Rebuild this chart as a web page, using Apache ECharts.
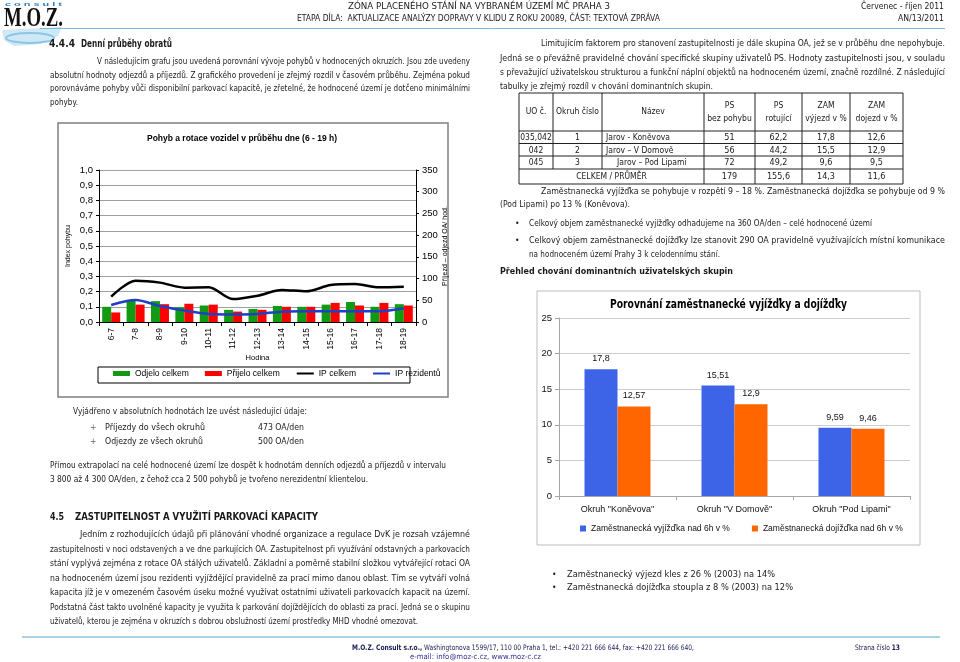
<!DOCTYPE html>
<html><head><meta charset="utf-8">
<script src="https://cdn.jsdelivr.net/npm/echarts@6/dist/echarts.min.js"></script>
<style>html,body{margin:0;padding:0;background:#fff}#c{width:960px;height:662px}</style>
</head><body><div id="c"></div>
<script>
// ---------- data: chart 1 ----------
const hours = ['6-7','7-8','8-9','9-10','10-11','11-12','12-13','13-14','14-15','15-16','16-17','17-18','18-19'];
const odjeloCelkem = [35, 51, 48, 34, 38, 28, 30, 37, 35, 40, 46, 35, 41];
const prijeloCelkem = [22, 40, 41, 42, 40, 24, 28, 35, 35, 44, 38, 44, 38];
const ipCelkem = [0.167, 0.272, 0.259, 0.226, 0.228, 0.151, 0.173, 0.211, 0.202, 0.243, 0.250, 0.228, 0.232];
const ipRezidentu = [0.112, 0.145, 0.105, 0.075, 0.053, 0.050, 0.053, 0.068, 0.070, 0.070, 0.070, 0.070, 0.090];
// ---------- data: chart 2 ----------
const okruhy = ['Okruh "Koněvova"', 'Okruh "V Domově"', 'Okruh "Pod Lipami"'];
const vyjizdka = [17.8, 15.51, 9.59];
const dojizdka = [12.57, 12.9, 9.46];
// ---------- data: table ----------
const tableHeader = [['UO č.'], ['Okruh číslo'], ['Název'], ['PS', 'bez pohybu'], ['PS', 'rotující'], ['ZAM', 'výjezd v %'], ['ZAM', 'dojezd v %']];
const tableRows = [
  ['035,042', '1', 'Jarov - Koněvova', '51', '62,2', '17,8', '12,6'],
  ['042', '2', 'Jarov – V Domově', '56', '44,2', '15,5', '12,9'],
  ['045', '3', 'Jarov – Pod Lipami', '72', '49,2', '9,6', '9,5']
];
const tableTotal = ['CELKEM / PRŮMĚR', '179', '155,6', '14,3', '11,6'];

// ---------- text helpers ----------
const FB = '"DejaVu Sans", Verdana, sans-serif';
const FA = '"Liberation Sans", Arial, sans-serif';
const FS = '"Liberation Serif", "Times New Roman", serif';
const cv = document.createElement('canvas').getContext('2d');
function tw(t, font) { cv.font = font; return cv.measureText(t).width; }
const G = [];
function txt(t, x, y, o) {
  o = o || {};
  const size = o.size || 9, fam = o.fam || FB, wt = o.bold ? 'bold ' : '';
  const font = wt + size + 'px ' + fam;
  const w = tw(t, font);
  let sx = o.sx || 0.85;
  if (o.x2 != null) sx = (o.x2 - x) / w;
  const al = o.align || 'left';
  G.push({type: 'text', x: x, y: y, scaleX: sx, silent: true, z: 10,
    style: {text: t, font: font, fill: o.color || '#1a1a1a', align: al, textAlign: al,
      verticalAlign: 'middle', textVerticalAlign: 'middle'}});
  return w * sx;
}
function rich(parts, x1, x2, y, o) {
  o = o || {};
  const size = o.size || 9;
  const ws = parts.map(p => tw(p[0], (p[1] ? 'bold ' : '') + size + 'px ' + FB));
  const tot = ws.reduce((a, b) => a + b, 0);
  const sx = (x2 - x1) / tot;
  let x = x1;
  parts.forEach((p, i) => { txt(p[0], x, y, {size: size, bold: p[1], sx: sx, color: o.color}); x += ws[i] * sx; });
}
function hline(x1, x2, y, c, w) { G.push({type: 'line', silent: true, z: 10, shape: {x1: x1, y1: y, x2: x2, y2: y}, style: {stroke: c || '#000', lineWidth: w || 1}}); }
function vline(x, y1, y2, c, w) { G.push({type: 'line', silent: true, z: 10, shape: {x1: x, y1: y1, x2: x, y2: y2}, style: {stroke: c || '#000', lineWidth: w || 1}}); }

// ---------- header / logo ----------
G.push({type: 'polygon', silent: true, shape: {points: [[2, 30], [62, 27], [58, 36], [40, 44], [14, 46], [4, 40]]}, style: {fill: '#cfe8f5'}});
G.push({type: 'ellipse', silent: true, shape: {cx: 30, cy: 38, rx: 24, ry: 5}, style: {fill: 'none', stroke: '#8cc6e4', lineWidth: 2}});
txt('c o n s u l t', 5, 4, {fam: FA, size: 6, bold: true, x2: 62, color: '#2f7fbf'});
txt('M.O.Z.', 4, 19, {fam: FS, size: 27, bold: true, x2: 63, color: '#111'});
hline(40, 945, 28.5, '#7fb9d8', 1);
txt('ZÓNA PLACENÉHO STÁNÍ NA VYBRANÉM ÚZEMÍ MČ PRAHA 3', 348, 7, {size: 8, x2: 610});
txt('ETAPA DÍLA:  AKTUALIZACE ANALÝZY DOPRAVY V KLIDU Z ROKU 20089, ČÁST: TEXTOVÁ ZPRÁVA', 297, 19, {size: 8, x2: 660});
txt('Červenec - říjen 2011', 861, 7, {size: 8, x2: 944});
txt('AN/13/2011', 898, 19, {size: 8, x2: 944});

// ---------- left column text ----------
txt('4.4.4', 49, 44, {size: 10, bold: true, x2: 75});
txt('Denní průběhy obratů', 81, 44, {size: 10, bold: true, x2: 172});
txt('V následujícím grafu jsou uvedená porovnání vývoje pohybů v hodnocených okruzích. Jsou zde uvedeny', 97, 62, {x2: 470});
txt('absolutní hodnoty odjezdů a příjezdů. Z grafického provedení je zřejmý rozdíl v časovém průběhu. Zejména pokud', 50, 75.5, {x2: 470});
txt('porovnáváme pohyby vůči disponibilní parkovací kapacitě, je zřetelné, že hodnocené území je dotčeno minimálními', 50, 89, {x2: 470});
txt('pohyby.', 50, 102.5, {x2: 78});

txt('Vyjádřeno v absolutních hodnotách lze uvést následující údaje:', 73, 412, {x2: 307});
txt('+', 90, 428, {color: '#666'});
txt('Příjezdy do všech okruhů', 105, 428, {x2: 205});
txt('473 OA/den', 258, 428, {x2: 304});
txt('+', 90, 442, {color: '#666'});
txt('Odjezdy ze všech okruhů', 105, 442, {x2: 203});
txt('500 OA/den', 258, 442, {x2: 304});
txt('Přímou extrapolací na celé hodnocené území lze dospět k hodnotám denních odjezdů a příjezdů v intervalu', 50, 466, {x2: 446});
txt('3 800 až 4 300 OA/den, z čehož cca 2 500 pohybů je tvořeno nerezidentní klientelou.', 50, 480, {x2: 368});
txt('4.5', 50, 517, {size: 10.5, bold: true, x2: 64});
txt('ZASTUPITELNOST A VYUŽITÍ PARKOVACÍ KAPACITY', 75, 517, {size: 10.5, bold: true, x2: 318});
const para2 = [
  ['Jedním z rozhodujících údajů při plánování vhodné organizace a regulace DvK je rozsah vzájemné', 80, 470],
  ['zastupitelnosti v noci odstavených a ve dne parkujících OA. Zastupitelnost při využívání odstavných a parkovacích', 50, 470],
  ['stání vyplývá zejména z rotace OA stálých uživatelů. Základní a poměrně stabilní složkou vytvářející rotaci OA', 50, 470],
  ['na hodnoceném území jsou rezidenti vyjíždějící pravidelně za prací mimo danou oblast. Tím se vytváří volná', 50, 470],
  ['kapacita jíž je v omezeném časovém úseku možné využívat ostatními uživateli parkovacích kapacit na území.', 50, 470],
  ['Podstatná část takto uvolněné kapacity je využita k parkování dojíždějících do oblasti za prací. Jedná se o skupinu', 50, 470],
  ['uživatelů, kterou je zejména v okruzích s dobrou obslužností území prostředky MHD vhodné omezovat.', 50, 418]
];
para2.forEach((l, i) => txt(l[0], l[1], 535 + i * 14.5, {x2: l[2]}));

// ---------- right column text ----------
txt('Limitujícím faktorem pro stanovení zastupitelnosti je dále skupina OA, jež se v průběhu dne nepohybuje.', 541, 44, {x2: 945});
txt('Jedná se o převážně pravidelné chování specifické skupiny uživatelů PS. Hodnoty zastupitelnosti jsou, v souladu', 500, 58.5, {x2: 945});
txt('s převažující uživatelskou strukturou a funkční náplní objektů na hodnoceném území, značně rozdílné. Z následující', 500, 73, {x2: 945});
txt('tabulky je zřejmý rozdíl v chování dominantních skupin.', 500, 87, {x2: 713});

// table
const colX = [519, 553, 602, 704, 755, 802, 850, 903];
const rowY = [93, 131, 143.5, 156, 169, 184];
rowY.forEach(y => hline(colX[0], colX[7], y, '#222', 1));
colX.forEach((x, i) => vline(x, rowY[0], (i === 1 || i === 2) ? rowY[4] : rowY[5], '#222', 1));
tableHeader.forEach((h, i) => {
  const cx = (colX[i] + colX[i + 1]) / 2;
  if (h.length === 1) txt(h[0], cx, 112, {size: 9, align: 'center'});
  else { txt(h[0], cx, 105.5, {size: 9, align: 'center'}); txt(h[1], cx, 119, {size: 9, align: 'center'}); }
});
tableRows.forEach((r, ri) => {
  const y = (rowY[ri + 1] + rowY[ri + 2]) / 2 + 0.5;
  r.forEach((v, ci) => {
    if (ci === 2) txt(v, ri === 2 ? 617 : 606, y, {size: 9});
    else txt(v, (colX[ci] + colX[ci + 1]) / 2, y, {size: ci > 2 ? 9.5 : 9, align: 'center'});
  });
});
txt(tableTotal[0], (colX[0] + colX[3]) / 2, 177, {size: 9, align: 'center'});
tableTotal.slice(1).forEach((v, i) => txt(v, (colX[i + 3] + colX[i + 4]) / 2, 177, {size: 9.5, align: 'center'}));

txt('Zaměstnanecká vyjížďka se pohybuje v rozpětí 9 – 18 %. Zaměstnanecká dojížďka se pohybuje od 9 %', 541, 192, {x2: 945});
txt('(Pod Lipami) po 13 % (Koněvova).', 500, 205, {x2: 630});
txt('•', 515, 224, {size: 9});
txt('Celkový objem zaměstnanecké vyjížďky odhadujeme na 360 OA/den – celé hodnocené území', 529, 224, {x2: 872});
txt('•', 515, 241, {size: 9});
txt('Celkový objem zaměstnanecké dojížďky lze stanovit 290 OA pravidelně využívajících místní komunikace', 529, 241, {x2: 945});
txt('na hodnoceném území Prahy 3 k celodennímu stání.', 529, 255, {x2: 720});
txt('Přehled chování dominantních uživatelských skupin', 500, 272, {size: 9, bold: true, x2: 733});

txt('•', 552, 575, {size: 9});
txt('Zaměstnanecký výjezd kles z 26 % (2003) na 14%', 567, 575, {x2: 775});
txt('•', 552, 588, {size: 9});
txt('Zaměstnanecká dojížďka stoupla z 8 % (2003) na 12%', 567, 588, {x2: 793});

// chart boxes and titles
G.push({type: 'rect', silent: true, z: 0, shape: {x: 58, y: 123, width: 390, height: 274}, style: {fill: 'none', stroke: '#808080', lineWidth: 1.5}});
G.push({type: 'rect', silent: true, z: 0, shape: {x: 98, y: 367, width: 312, height: 16}, style: {fill: 'none', stroke: '#000', lineWidth: 1}});
txt('Pohyb a rotace vozidel v průběhu dne (6 - 19 h)', 147, 138, {fam: FA, size: 9.5, bold: true, x2: 337, color: '#000'});
G.push({type: 'rect', silent: true, z: 0, shape: {x: 537, y: 291, width: 383, height: 254}, style: {fill: 'none', stroke: '#bdbdbd', lineWidth: 1}});
txt('Porovnání zaměstnanecké vyjížďky a dojížďky', 610, 305, {size: 11.5, bold: true, x2: 847, color: '#000'});

// footer
hline(22, 940, 637, '#8cc4de', 1.5);
rich([['M.O.Z. Consult s.r.o.,', true], [' Washingtonova 1599/17, 110 00 Praha 1, tel.: +420 221 666 644, fax: +420 221 666 640,', false]], 352, 694, 648, {size: 7.5, color: '#1a1a55'});
txt('e-mail: info@moz-c.cz, www.moz-c.cz', 410, 657, {size: 7.5, x2: 541, color: '#333399'});
rich([['Strana číslo ', false], ['13', true]], 855, 900, 648, {size: 7.5, color: '#1a1a55'});

// ---------- chart ----------
const comma = (v, d) => (d == null ? String(v) : v.toFixed(d)).replace('.', ',');
const chart = echarts.init(document.getElementById('c'));
chart.setOption({
  animation: false,
  textStyle: {fontFamily: FA},
  grid: [
    {left: 99, top: 170, width: 317, height: 152},
    {left: 559, top: 318, width: 351, height: 178}
  ],
  xAxis: [
    {type: 'category', gridIndex: 0, data: hours,
      axisLine: {lineStyle: {color: '#000'}},
      axisTick: {show: true, interval: 0, length: 4, lineStyle: {color: '#000'}},
      axisLabel: {rotate: 90, fontSize: 8.5, color: '#000', margin: 6, interval: 0, fontFamily: FA},
      name: 'Hodina', nameLocation: 'middle', nameGap: 31, nameTextStyle: {fontSize: 7.5, color: '#000', fontFamily: FA}},
    {type: 'category', gridIndex: 1, data: okruhy,
      axisLine: {lineStyle: {color: '#a6a6a6'}},
      axisTick: {show: true, interval: 0, length: 4, lineStyle: {color: '#a6a6a6'}},
      axisLabel: {fontSize: 9, color: '#111', margin: 9, interval: 0, fontFamily: FA}}
  ],
  yAxis: [
    {type: 'value', gridIndex: 0, position: 'left', min: 0, max: 1, interval: 0.1,
      axisLine: {show: true, lineStyle: {color: '#000'}},
      axisTick: {show: true, length: 3, lineStyle: {color: '#000'}},
      axisLabel: {fontSize: 9.5, color: '#000', margin: 6, formatter: v => comma(v, 1)},
      splitLine: {lineStyle: {color: '#a0a0a0'}},
      name: 'Index pohybu', nameLocation: 'middle', nameGap: 27, nameTextStyle: {fontSize: 7, color: '#000'}},
    {type: 'value', gridIndex: 0, position: 'right', min: 0, max: 350, interval: 50,
      axisLine: {show: true, lineStyle: {color: '#000'}},
      axisTick: {show: true, length: 3, lineStyle: {color: '#000'}},
      axisLabel: {fontSize: 9.5, color: '#000', margin: 6},
      splitLine: {show: false},
      name: 'Příjezd – odjezd OA/ hod.', nameLocation: 'middle', nameGap: 24, nameTextStyle: {fontSize: 7, color: '#000'}},
    {type: 'value', gridIndex: 1, min: 0, max: 25, interval: 5,
      axisLine: {show: true, lineStyle: {color: '#a6a6a6'}},
      axisTick: {show: true, length: 4, lineStyle: {color: '#a6a6a6'}},
      axisLabel: {fontSize: 9.5, color: '#111', margin: 7},
      splitLine: {lineStyle: {color: '#cccccc'}}}
  ],
  legend: [
    {left: 113, top: 369, itemWidth: 17, itemHeight: 5, itemGap: 16, padding: 0,
      textStyle: {fontSize: 8.5, color: '#000', fontFamily: FA},
      data: [{name: 'Odjelo celkem', icon: 'rect'}, {name: 'Přijelo celkem', icon: 'rect'},
        {name: 'IP celkem', itemStyle: {opacity: 0}}, {name: 'IP rezidentů', itemStyle: {opacity: 0}}]},
    {left: 580, top: 524, itemWidth: 6, itemHeight: 6, itemGap: 22, padding: 0, icon: 'rect',
      textStyle: {fontSize: 8.5, color: '#111', fontFamily: FA},
      data: ['Zaměstnanecká vyjížďka nad 6h v %', 'Zaměstnanecká dojížďka nad 6h v %']}
  ],
  series: [
    {name: 'Odjelo celkem', type: 'bar', xAxisIndex: 0, yAxisIndex: 1, data: odjeloCelkem, barWidth: 9, barGap: '0%', itemStyle: {color: '#129a12'}},
    {name: 'Přijelo celkem', type: 'bar', xAxisIndex: 0, yAxisIndex: 1, data: prijeloCelkem, barWidth: 9, barGap: '0%', itemStyle: {color: '#ff0000'}},
    {name: 'IP celkem', type: 'line', xAxisIndex: 0, yAxisIndex: 0, data: ipCelkem, smooth: 0.3, symbol: 'none', lineStyle: {color: '#000', width: 2.5}, itemStyle: {color: '#000'}, z: 5},
    {name: 'IP rezidentů', type: 'line', xAxisIndex: 0, yAxisIndex: 0, data: ipRezidentu, smooth: 0.3, symbol: 'none', lineStyle: {color: '#1f3fc4', width: 2.5}, itemStyle: {color: '#1f3fc4'}, z: 5},
    {name: 'Zaměstnanecká vyjížďka nad 6h v %', type: 'bar', xAxisIndex: 1, yAxisIndex: 2, data: vyjizdka, barWidth: 33, barGap: '0%', itemStyle: {color: '#3d63e6'},
      label: {show: true, position: 'top', fontSize: 9, color: '#111', distance: 6, formatter: p => comma(p.value)}},
    {name: 'Zaměstnanecká dojížďka nad 6h v %', type: 'bar', xAxisIndex: 1, yAxisIndex: 2, data: dojizdka, barWidth: 33, barGap: '0%', itemStyle: {color: '#ff6600'},
      label: {show: true, position: 'top', fontSize: 9, color: '#111', distance: 6, formatter: p => comma(p.value)}}
  ],
  graphic: G
});
</script></body></html>
